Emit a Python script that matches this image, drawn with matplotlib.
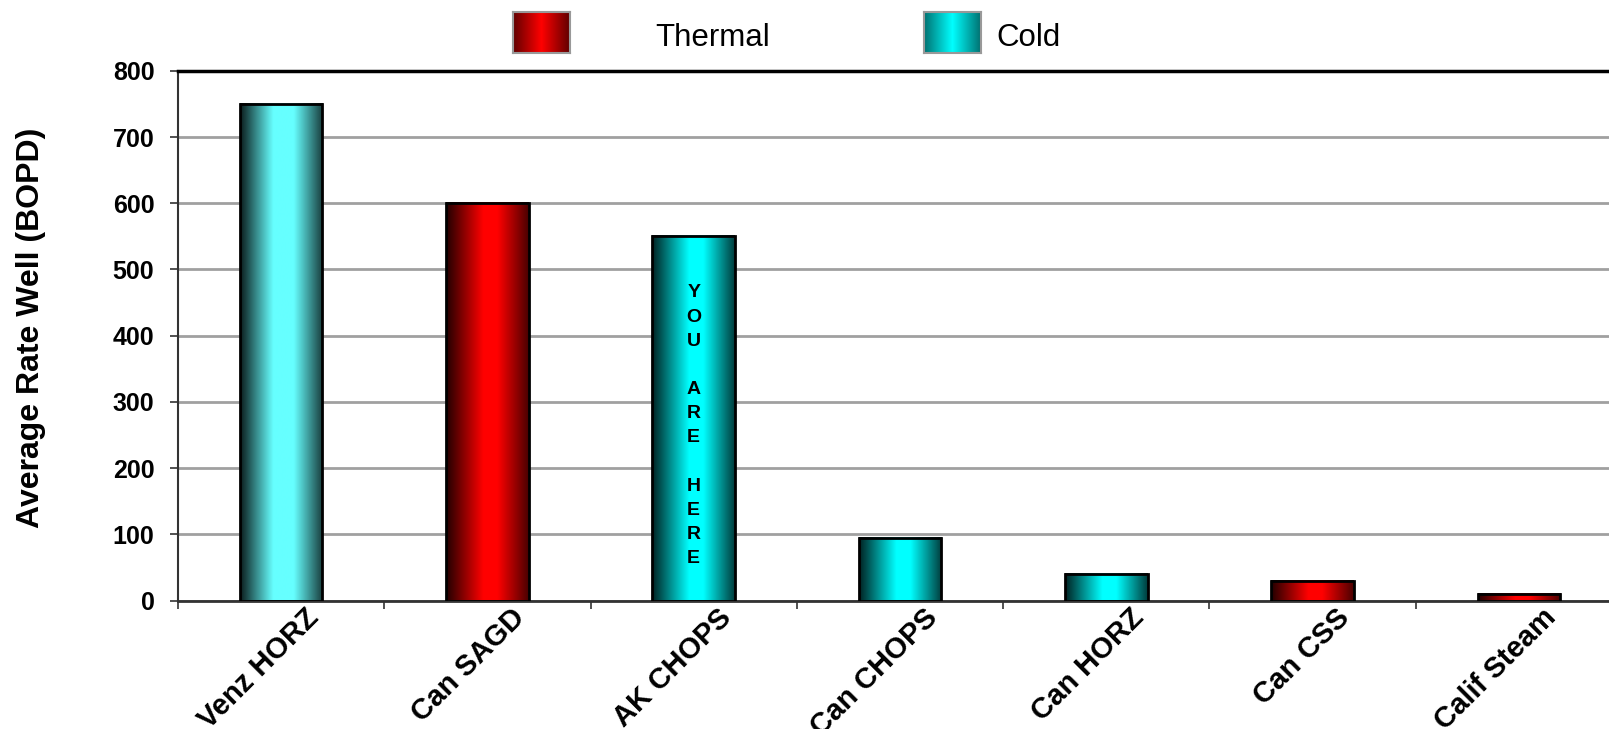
import numpy as np
import matplotlib
matplotlib.use("Agg")
import matplotlib.pyplot as plt
from matplotlib.colors import LinearSegmentedColormap
from matplotlib.transforms import offset_copy

categories = ["Venz HORZ", "Can SAGD", "AK CHOPS", "Can CHOPS", "Can HORZ", "Can CSS", "Calif Steam"]
rates = [750, 600, 550, 95, 40, 30, 10]
kinds = ["Cold", "Thermal", "Cold", "Cold", "Cold", "Thermal", "Thermal"]
yticks = [0, 100, 200, 300, 400, 500, 600, 700, 800]
marker_text = "YOU ARE HERE"

plt.rcParams['font.family'] = ['Liberation Sans', 'DejaVu Sans']


def ramp(name, stops):
    return LinearSegmentedColormap.from_list(name, stops)


# bars: dark on the left, bright a bit right of middle, darkish at the right edge
bar_maps = {
    "Thermal": ramp("thermal", [(0, "#200000"), (0.45, "#ff0000"), (0.62, "#ff0000"), (1, "#4a0000")]),
    "Cold": ramp("cold", [(0, "#002020"), (0.45, "#00ffff"), (0.62, "#00ffff"), (1, "#003c3c")]),
}
light_cold = ramp("coldlight", [(0, "#0a1a1a"), (0.4, "#66ffff"), (0.65, "#66ffff"), (1, "#183c3c")])
# legend swatches: symmetric
legend_maps = {
    "Thermal": ramp("thermal_leg", [(0, "#600000"), (0.5, "#ff0000"), (1, "#600000")]),
    "Cold": ramp("cold_leg", [(0, "#007070"), (0.5, "#00ffff"), (1, "#007070")]),
}

fig = plt.figure(figsize=(16.09, 7.29), dpi=100)
ax = fig.add_axes([178 / 1609, 1 - 600.5 / 729, 1444 / 1609, 529.7 / 729])

x = np.arange(len(categories))
grad = np.linspace(0, 1, 256).reshape(1, -1)
bars = ax.bar(x, rates, 0.4, facecolor="none", edgecolor="black", linewidth=2, zorder=3)
for name, b, kind in zip(categories, bars, kinds):
    cmap = light_cold if name == "Venz HORZ" else bar_maps[kind]
    ax.imshow(grad, cmap=cmap, aspect="auto", interpolation="bilinear",
              extent=(b.get_x(), b.get_x() + b.get_width(), 0, b.get_height()), zorder=2)

ax.set_xlim(-0.5, len(categories) - 0.5)
ax.set_ylim(0, 800)

ax.set_yticks(yticks)
ax.set_yticklabels([str(v) for v in yticks], fontsize=18, fontweight="bold")
ax.tick_params(axis="y", length=6, width=1.2, direction="out", pad=11, color="#333333")
ax.yaxis.grid(True, color="#a0a0a0", linewidth=2)
ax.set_axisbelow(True)

ax.set_xticks(x)
ax.set_xticklabels([])
ax.tick_params(axis="x", which="major", length=0)
ax.set_xticks(np.arange(-0.5, len(categories), 1), minor=True)
ax.tick_params(axis="x", which="minor", length=6, width=1.2, direction="out", color="#333333")

trans = offset_copy(ax.get_xaxis_transform(), fig=fig, x=33, y=-13, units="dots")
for xi, name in zip(x, categories):
    ax.text(xi, 0, name, transform=trans, rotation=45, ha="right", va="center",
            rotation_mode="anchor", fontsize=21, fontweight="bold")

ax.spines["right"].set_visible(False)
ax.spines["top"].set_color("black")
ax.spines["top"].set_linewidth(2.5)
ax.spines["left"].set_color("#333333")
ax.spines["left"].set_linewidth(1.5)
ax.spines["bottom"].set_color("#333333")
ax.spines["bottom"].set_linewidth(2)

idx = categories.index("AK CHOPS")
ax.text(idx, 264, "\n".join(list(marker_text)), ha="center", va="center",
        fontsize=14, fontweight="bold", linespacing=1.55, zorder=4)

fig.text(31 / 1609, 1 - 328 / 729, "Average Rate Well (BOPD)", rotation=90,
         ha="center", va="center", fontsize=23, fontweight="bold")

# legend drawn by hand: swatch, gap, label
legend_items = [("Thermal", 513, 655), ("Cold", 924, 996)]
for kind, px, tx in legend_items:
    lax = fig.add_axes([px / 1609, 1 - 53 / 729, 57 / 1609, 41 / 729])
    lax.imshow(grad, cmap=legend_maps[kind], aspect="auto", interpolation="bilinear")
    lax.set_xticks([])
    lax.set_yticks([])
    for s in lax.spines.values():
        s.set_color("#999999")
        s.set_linewidth(1.5)
    fig.text(tx / 1609, 1 - 38 / 729, kind, ha="left", va="center", fontsize=22.5)

fig.savefig("out.png", dpi=100)
